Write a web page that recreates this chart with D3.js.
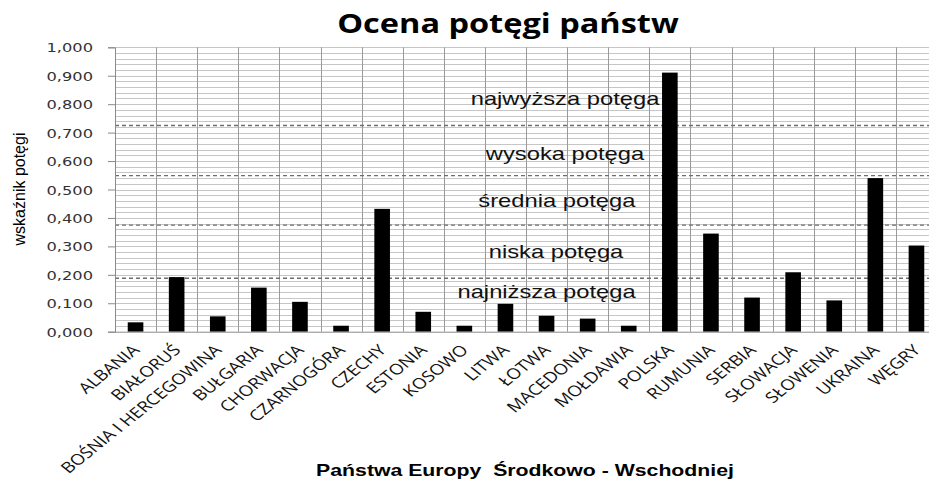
<!DOCTYPE html>
<html>
<head>
<meta charset="utf-8">
<script src="https://cdn.jsdelivr.net/npm/d3@7"></script>
<style>
  body { margin: 0; background: #fff; }
  svg { display: block; }
</style>
</head>
<body>
<div id="chart"></div>
<script>
const countries = ['ALBANIA', 'BIAŁORUŚ', 'BOŚNIA I HERCEGOWINA', 'BUŁGARIA', 'CHORWACJA',
  'CZARNOGÓRA', 'CZECHY', 'ESTONIA', 'KOSOWO', 'LITWA', 'ŁOTWA', 'MACEDONIA', 'MOŁDAWIA',
  'POLSKA', 'RUMUNIA', 'SERBIA', 'SŁOWACJA', 'SŁOWENIA', 'UKRAINA', 'WĘGRY'];
const power = [0.033, 0.192, 0.054, 0.155, 0.105, 0.021, 0.432, 0.070, 0.021, 0.098,
  0.056, 0.046, 0.021, 0.911, 0.345, 0.120, 0.209, 0.110, 0.540, 0.303];
const yTicks = [0, 0.1, 0.2, 0.3, 0.4, 0.5, 0.6, 0.7, 0.8, 0.9, 1.0];
const thresholds = [0.188, 0.375, 0.549, 0.725];
const levelNames = ['najniższa potęga', 'niska potęga', 'średnia potęga', 'wysoka potęga', 'najwyższa potęga'];
const levelValues = [0.119, 0.259, 0.438, 0.604, 0.797];
const levelSlots = [10.5, 10.73, 10.75, 10.95, 10.95];

const W = 929, H = 485;
const sx = 1.25; // the source picture is stretched sideways

const svg = d3.select('#chart').append('svg')
  .attr('width', W)
  .attr('height', H);

const x = d3.scaleBand()
  .domain(countries)
  .range([115, 937])
  .paddingInner(0.62)
  .paddingOuter(0.31);

const y = d3.scaleLinear().domain([0, 1]).range([331.7, 47.3]);
const slot = d3.scaleLinear().domain([0, countries.length]).range([115, 937]);

// minor gridlines
svg.append('g')
  .selectAll('line')
  .data(d3.range(1, 51).map(i => i * 0.02))
  .join('line')
  .attr('x1', 115).attr('x2', 937)
  .attr('y1', d => Math.round(y(d)) + 0.5)
  .attr('y2', d => Math.round(y(d)) + 0.5)
  .attr('stroke', '#c6c6c6')
  .attr('stroke-width', 1);

// vertical gridlines between categories
svg.append('g')
  .selectAll('line')
  .data(d3.range(1, countries.length + 1))
  .join('line')
  .attr('x1', d => Math.round(slot(d)) + 0.5)
  .attr('x2', d => Math.round(slot(d)) + 0.5)
  .attr('y1', y(1)).attr('y2', y(0))
  .attr('stroke', '#9a9a9a')
  .attr('stroke-width', 1);

// dashed level lines
svg.append('g')
  .selectAll('line')
  .data(thresholds)
  .join('line')
  .attr('x1', 115).attr('x2', 937)
  .attr('y1', d => y(d)).attr('y2', d => y(d))
  .attr('stroke', '#6e6e6e')
  .attr('stroke-width', 1.3)
  .attr('stroke-dasharray', '4,3');

// bars
svg.append('g')
  .selectAll('rect')
  .data(power)
  .join('rect')
  .attr('x', (d, i) => x(countries[i]))
  .attr('width', x.bandwidth())
  .attr('y', d => y(d))
  .attr('height', d => y(0) - y(d))
  .attr('fill', '#000');

// y axis
const yAxis = svg.append('g')
  .attr('transform', 'translate(115,0)')
  .call(d3.axisLeft(y).tickValues(yTicks).tickSize(7).tickFormat(d => d3.format('.3f')(d).replace('.', ',')));
yAxis.select('.domain').attr('stroke', '#8a8a8a');
yAxis.selectAll('.tick line').attr('stroke', '#8a8a8a');
yAxis.selectAll('.tick text')
  .attr('x', null)
  .attr('dy', null)
  .attr('transform', 'translate(-22,4.6) scale(' + sx + ',1)')
  .attr('fill', '#333')
  .style('font-family', '"DejaVu Sans", sans-serif')
  .style('font-size', '13px');

// x axis line
svg.append('line')
  .attr('x1', 115).attr('x2', 937)
  .attr('y1', y(0) + 0.5).attr('y2', y(0) + 0.5)
  .attr('stroke', '#8a8a8a');

// category labels
svg.append('g')
  .selectAll('text')
  .data(countries)
  .join('text')
  .attr('transform', d => 'translate(' + (x(d) + x.bandwidth() / 2 + 5) + ',351) scale(' + sx + ',1) rotate(-45)')
  .attr('text-anchor', 'end')
  .attr('fill', '#111')
  .style('font-family', '"Open Sans", sans-serif')
  .style('font-size', '15px')
  .text(d => d);

// level names
svg.append('g')
  .selectAll('text')
  .data(levelNames)
  .join('text')
  .attr('transform', (d, i) => 'translate(' + slot(levelSlots[i]) + ',' + y(levelValues[i]) + ') scale(' + sx + ',1)')
  .attr('text-anchor', 'middle')
  .attr('fill', '#111')
  .style('font-family', '"Liberation Sans", Arial, sans-serif')
  .style('font-size', '19px')
  .text(d => d);

// title
svg.append('text')
  .attr('transform', 'translate(508,33) scale(' + sx + ',1)')
  .attr('text-anchor', 'middle')
  .style('font-family', '"Open Sans", sans-serif')
  .style('font-weight', 'bold')
  .style('font-size', '26px')
  .text('Ocena potęgi państw');

// axis titles
svg.append('text')
  .attr('transform', 'translate(525,476) scale(' + sx + ',1)')
  .attr('text-anchor', 'middle')
  .style('font-family', '"Liberation Sans", Arial, sans-serif')
  .style('font-weight', 'bold')
  .style('font-size', '17px')
  .style('white-space', 'pre')
  .text('Państwa Europy  Środkowo - Wschodniej');

svg.append('text')
  .attr('transform', 'translate(25,189) rotate(-90)')
  .attr('text-anchor', 'middle')
  .style('font-family', '"Liberation Sans", Arial, sans-serif')
  .style('font-size', '16px')
  .text('wskaźnik potęgi');
</script>
</body>
</html>
